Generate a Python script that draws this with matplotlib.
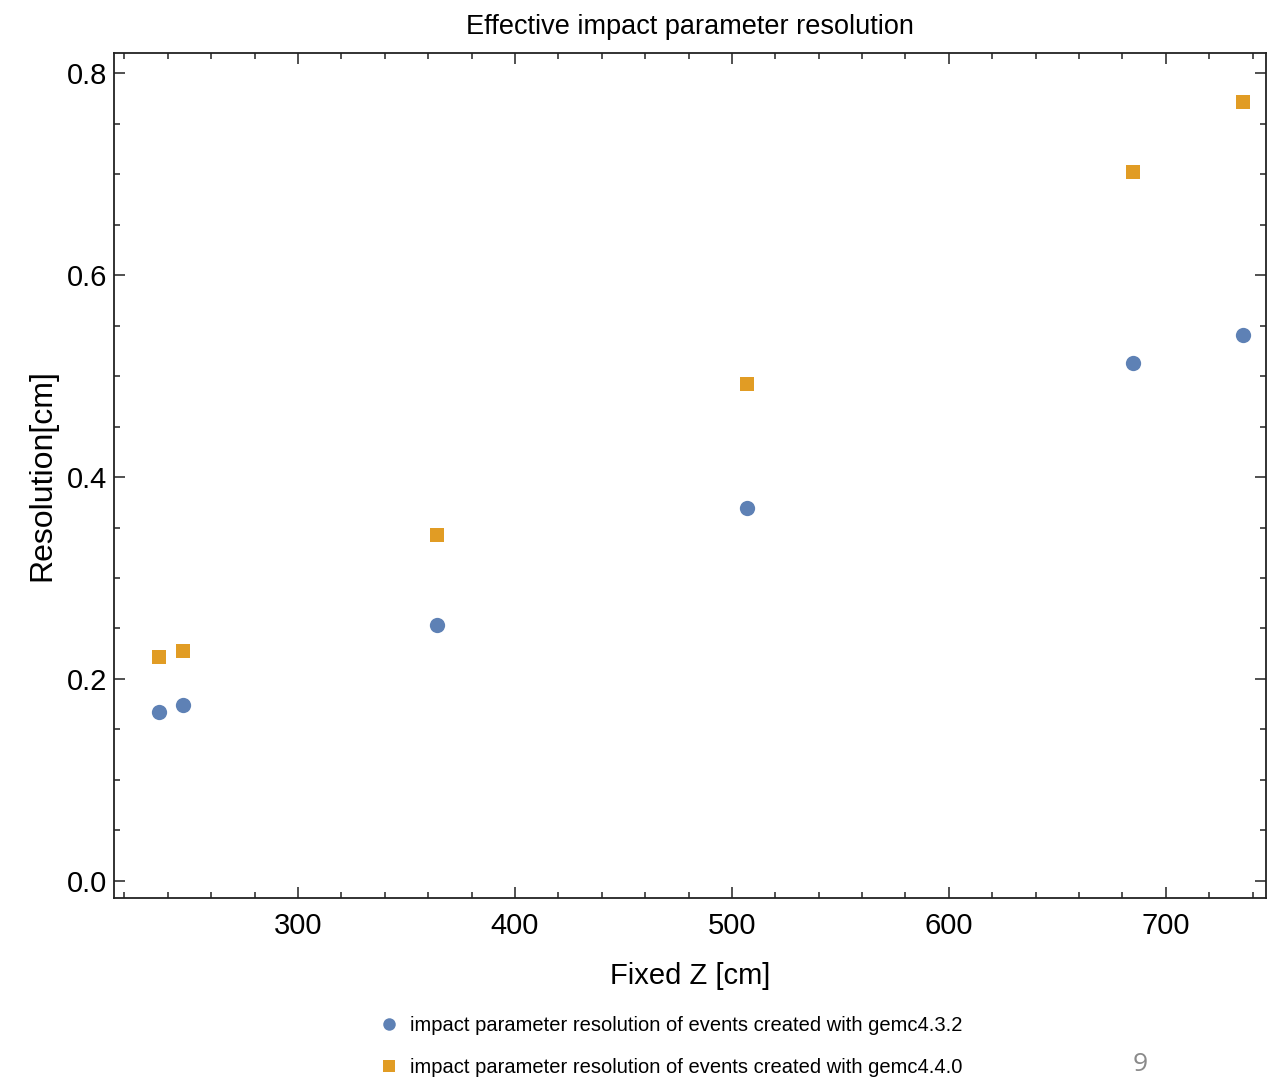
import numpy as np
import matplotlib.pyplot as plt
from matplotlib.ticker import MultipleLocator
from matplotlib.lines import Line2D

# values
fixed_z = [236, 247, 364, 507, 685, 735.5]
res_gemc432 = [0.167, 0.174, 0.253, 0.369, 0.513, 0.541]
res_gemc440 = [0.222, 0.228, 0.343, 0.492, 0.702, 0.771]
series_labels = ['impact parameter resolution of events created with gemc4.3.2',
                 'impact parameter resolution of events created with gemc4.4.0']

blue = '#5E81B5'
orange = '#E19C24'
sans = ['Liberation Sans', 'DejaVu Sans']

fig = plt.figure(figsize=(12.81, 10.82), dpi=100)
ax = fig.add_axes([0.089, 0.170, 0.899, 0.781])

ax.plot(fixed_z, res_gemc432, 'o', color=blue, markersize=11, markeredgewidth=0)
ax.plot(fixed_z, res_gemc440, 's', color=orange, markersize=10.5, markeredgewidth=0)

ax.set_xlim(215.2, 746)
ax.set_ylim(-0.017, 0.82)
ax.xaxis.set_major_locator(MultipleLocator(100))
ax.xaxis.set_minor_locator(MultipleLocator(20))
ax.yaxis.set_major_locator(MultipleLocator(0.2))
ax.yaxis.set_minor_locator(MultipleLocator(0.05))
ax.yaxis.set_major_formatter(plt.FuncFormatter(lambda v, p: f'{v:.1f}'))

ax.tick_params(which='both', direction='in', top=True, right=True, width=1.2, color='#333333')
ax.tick_params(which='major', length=8, labelsize=21)
ax.tick_params(axis='x', which='major', pad=10)
ax.tick_params(axis='y', which='major', pad=5)
ax.tick_params(which='minor', length=4)
for lab in ax.get_xticklabels() + ax.get_yticklabels():
    lab.set_family(sans)
for s in ax.spines.values():
    s.set_linewidth(1.3)
    s.set_color('#222222')

ax.set_title('Effective impact parameter resolution', fontsize=19.5, family=sans, pad=14)
ax.set_xlabel('Fixed Z [cm]', fontsize=21, family=sans, labelpad=16)
ax.set_ylabel('Resolution[cm]', fontsize=23, family=sans, labelpad=7)

handles = [Line2D([], [], marker='o', ls='', color=blue, markersize=9, markeredgewidth=0),
           Line2D([], [], marker='s', ls='', color=orange, markersize=8.5, markeredgewidth=0)]
fig.legend(handles, series_labels, loc='lower left', bbox_to_anchor=(0.282, -0.012),
           frameon=False, prop={'family': sans, 'size': 14.5}, handletextpad=0.5,
           labelspacing=1.15, handlelength=1.0)

fig.text(0.884, 0.01, '9', fontsize=19, color='#8a8a8a', family=['Open Sans', 'DejaVu Sans'])

fig.savefig('out.png', dpi=100)
